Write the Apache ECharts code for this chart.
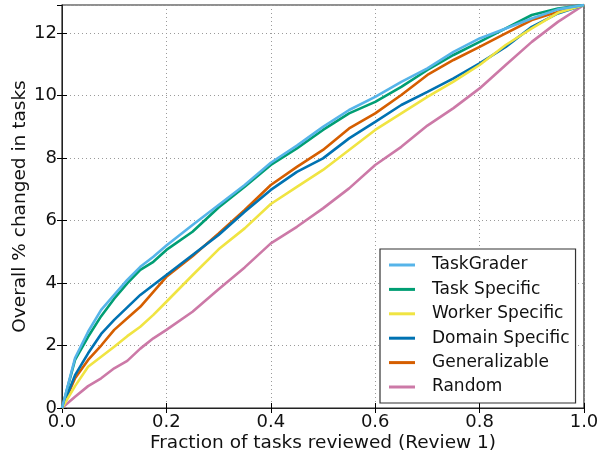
<!DOCTYPE html>
<html>
<head>
<meta charset="utf-8">
<script src="https://cdn.jsdelivr.net/npm/echarts@6/dist/echarts.min.js"></script>
<style>html,body{margin:0;padding:0;background:#fff}#c{width:606px;height:452px}</style>
</head>
<body>
<div id="c"></div>
<script>
const fractions = [0, 0.025, 0.05, 0.075, 0.1, 0.125, 0.15, 0.175, 0.2, 0.25, 0.3, 0.35, 0.4, 0.45, 0.5, 0.55, 0.6, 0.65, 0.7, 0.75, 0.8, 0.85, 0.9, 0.95, 1.0];
const taskGrader = [0, 1.6, 2.44, 3.14, 3.62, 4.1, 4.52, 4.84, 5.2, 5.86, 6.5, 7.14, 7.85, 8.4, 9.0, 9.54, 9.96, 10.44, 10.87, 11.4, 11.83, 12.15, 12.47, 12.76, 12.9];
const taskSpecific = [0, 1.54, 2.28, 2.94, 3.5, 3.99, 4.42, 4.68, 5.06, 5.64, 6.42, 7.08, 7.78, 8.31, 8.9, 9.43, 9.8, 10.28, 10.82, 11.3, 11.72, 12.15, 12.58, 12.79, 12.9];
const workerSpecific = [0, 0.7, 1.32, 1.64, 1.96, 2.3, 2.6, 2.98, 3.4, 4.25, 5.08, 5.75, 6.53, 7.08, 7.62, 8.26, 8.9, 9.43, 9.96, 10.45, 10.98, 11.62, 12.15, 12.65, 12.9];
const domainSpecific = [0, 1.05, 1.75, 2.37, 2.82, 3.22, 3.62, 3.94, 4.26, 4.9, 5.54, 6.28, 6.98, 7.56, 7.99, 8.63, 9.16, 9.7, 10.12, 10.55, 11.03, 11.56, 12.2, 12.63, 12.9];
const generalizable = [0, 0.95, 1.54, 2.0, 2.5, 2.87, 3.24, 3.72, 4.2, 4.86, 5.59, 6.34, 7.14, 7.72, 8.26, 8.95, 9.43, 10.02, 10.66, 11.14, 11.56, 11.99, 12.42, 12.68, 12.9];
const randomOrder = [0, 0.36, 0.7, 0.95, 1.27, 1.51, 1.9, 2.23, 2.5, 3.08, 3.8, 4.5, 5.27, 5.8, 6.39, 7.03, 7.78, 8.36, 9.04, 9.6, 10.23, 10.98, 11.72, 12.36, 12.9];
const seriesNames = ['TaskGrader', 'Task Specific', 'Worker Specific', 'Domain Specific', 'Generalizable', 'Random'];
const seriesValues = [taskGrader, taskSpecific, workerSpecific, domainSpecific, generalizable, randomOrder];
const colors = ['#56B4E9', '#009E73', '#F0E442', '#0072B2', '#D55E00', '#CC79A7'];

const FONT = 'DejaVu Sans';
const chart = echarts.init(document.getElementById('c'), null, {renderer: 'canvas'});
const gridStyle = {show: true, lineStyle: {color: '#9a9a9a', type: [1, 3], width: 1}};
const tickIn = {show: true, inside: true, length: 5, lineStyle: {color: '#000'}};
const option = {
  backgroundColor: '#fff',
  animation: false,
  textStyle: {fontFamily: FONT},
  grid: {left: 62, right: 22, top: 5, bottom: 44, show: true, borderColor: '#222', borderWidth: 1.2,
    backgroundColor: 'transparent', containLabel: false, outerBoundsMode: 'none'},
  legend: {
    orient: 'vertical', left: 380, top: 249,
    backgroundColor: '#fff', borderColor: '#333', borderWidth: 1.2, borderRadius: 0,
    padding: [6, 6, 6, 9],
    itemWidth: 26, itemHeight: 3, itemGap: 4.4,
    icon: 'rect',
    textStyle: {fontFamily: FONT, fontSize: 17, color: '#111', padding: [0, 0, 0, 12], lineHeight: 20},
    data: seriesNames
  },
  xAxis: [{
    type: 'value', min: 0, max: 1, interval: 0.2,
    name: 'Fraction of tasks reviewed (Review 1)', nameLocation: 'middle', nameGap: 26, nameMoveOverlap: false,
    nameTextStyle: {fontFamily: FONT, fontSize: 18.5, color: '#111'},
    axisLine: {show: true, lineStyle: {color: '#222'}},
    axisTick: tickIn,
    axisLabel: {fontFamily: FONT, fontSize: 18, color: '#111', margin: 5, formatter: v => v.toFixed(1)},
    splitLine: gridStyle
  }, {
    type: 'value', min: 0, max: 1, interval: 0.2, position: 'top',
    axisLine: {show: false}, axisTick: tickIn, axisLabel: {show: false}, splitLine: {show: false}
  }],
  yAxis: [{
    type: 'value', min: 0, max: 12.9, interval: 2,
    name: 'Overall % changed in tasks', nameLocation: 'middle', nameGap: 32, nameRotate: 90, nameMoveOverlap: false,
    nameTextStyle: {fontFamily: FONT, fontSize: 18.5, color: '#111'},
    axisLine: {show: true, lineStyle: {color: '#222'}},
    axisTick: tickIn,
    axisLabel: {fontFamily: FONT, fontSize: 18, color: '#111', margin: 5, showMaxLabel: false,
      formatter: v => (Math.abs(v - Math.round(v)) < 1e-6 ? String(Math.round(v)) : '')},
    splitLine: gridStyle
  }, {
    type: 'value', min: 0, max: 12.9, interval: 2, position: 'right',
    axisLine: {show: false}, axisTick: tickIn, axisLabel: {show: false}, splitLine: {show: false}
  }],
  series: seriesNames.map((name, i) => ({
    name: name, type: 'line', xAxisIndex: 0, yAxisIndex: 0,
    data: fractions.map((f, j) => [f, seriesValues[i][j]]),
    showSymbol: false, symbol: 'none', smooth: false,
    lineStyle: {color: colors[i], width: 2.6},
    itemStyle: {color: colors[i]},
    z: 10 - i
  }))
};
chart.setOption(option);
</script>
</body>
</html>
